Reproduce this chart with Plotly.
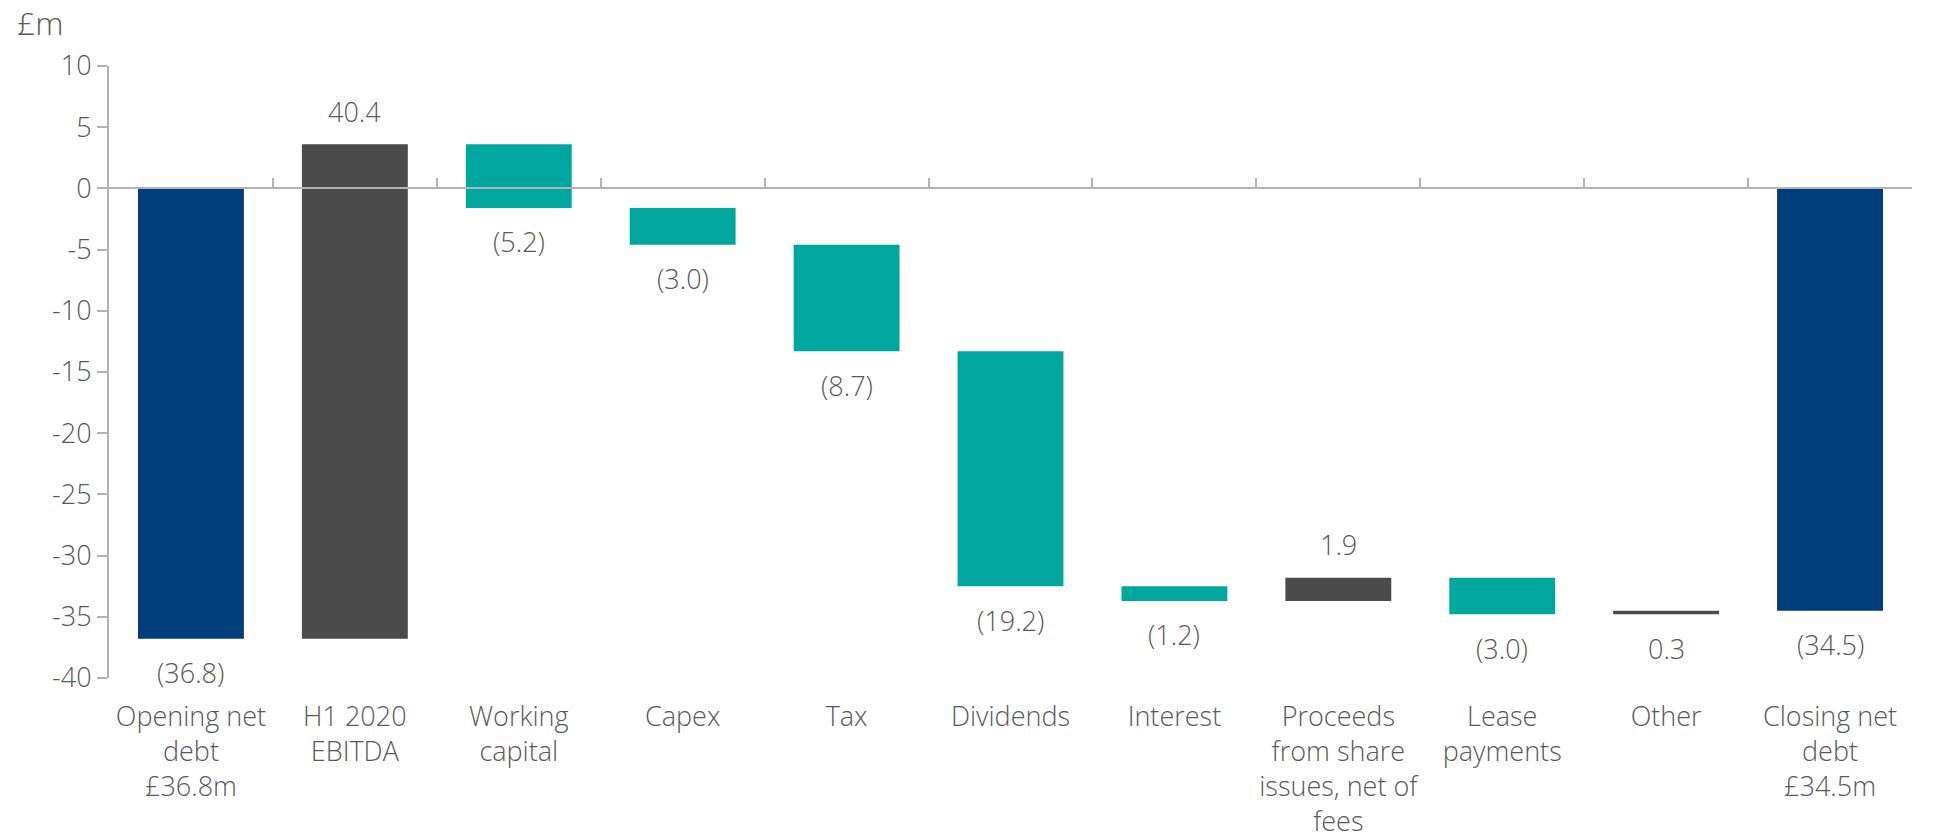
import plotly.graph_objects as go

# Cash flow bridge, £m
categories = [
    "Opening net<br>debt<br>£36.8m",
    "H1 2020<br>EBITDA",
    "Working<br>capital",
    "Capex",
    "Tax",
    "Dividends",
    "Interest",
    "Proceeds<br>from share<br>issues, net of<br>fees",
    "Lease<br>payments",
    "Other",
    "Closing net<br>debt<br>£34.5m",
]
values = [-36.8, 40.4, -5.2, -3.0, -8.7, -19.2, -1.2, 1.9, -3.0, 0.3, -34.5]
measures = ["absolute"] + ["relative"] * 9 + ["total"]
y_ticks = [10, 5, 0, -5, -10, -15, -20, -25, -30, -35, -40]

NAVY = "#003D7C"
GREY = "#4B4B4B"
TEAL = "#00A79E"
TEXT = "#595959"
AXIS = "#B3B3B3"
FONT = dict(family="Open Sans", size=27, color=TEXT, weight=300)


def fmt(v):
    return f"({abs(v):.1f})" if v < 0 else f"{v:.1f}"


fig = go.Figure()
fig.add_trace(go.Waterfall(
    x=categories,
    y=values,
    measure=measures,
    increasing=dict(marker=dict(color=GREY)),
    decreasing=dict(marker=dict(color=TEAL)),
    totals=dict(marker=dict(color=NAVY)),
    connector=dict(visible=False),
    textposition="none",
    hoverinfo="skip",
    showlegend=False,
))

# invisible trace that carries the zero-line axis with boundary ticks
fig.add_trace(go.Scatter(
    x=categories, y=[None] * len(categories), xaxis="x2", yaxis="y",
    mode="markers", showlegend=False, hoverinfo="skip",
))

# value labels: beyond the bar end; the small "Other" item is labelled below
running = 0.0
for i, (cat, v, m) in enumerate(zip(categories, values, measures)):
    if m == "absolute":
        lo, hi = min(0, v), max(0, v)
        running = v
    elif m == "total":
        lo, hi = min(0, running), max(0, running)
    else:
        start, end = running, running + v
        lo, hi = min(start, end), max(start, end)
        running = end
    above = v > 0 and i != 9
    fig.add_annotation(
        x=cat, y=hi if above else lo, text=fmt(v),
        showarrow=False, yanchor="middle",
        yshift=33 if above else -34, font=FONT,
    )

fig.add_annotation(
    xref="paper", yref="paper", x=-0.052, y=1.0, yshift=44,
    xanchor="left", yanchor="middle", text="£m", showarrow=False,
    font=dict(FONT, size=32),
)

fig.update_layout(
    width=1934, height=839,
    margin=dict(l=109, r=22, t=66, b=161, autoexpand=False),
    plot_bgcolor="white", paper_bgcolor="white",
    waterfallgap=0.354,
    font=FONT,
    xaxis=dict(
        type="category", categoryorder="array", categoryarray=categories,
        range=[-0.5, len(categories) - 0.5],
        showline=False, showgrid=False, zeroline=False, ticks="",
        tickfont=FONT, ticklabelstandoff=20, automargin=False,
    ),
    xaxis2=dict(
        type="category", categoryorder="array", categoryarray=categories,
        overlaying="x", matches="x", anchor="free", position=0.8, side="bottom",
        range=[-0.5, len(categories) - 0.5],
        showline=True, linecolor=AXIS, linewidth=2,
        ticks="inside", tickson="boundaries", ticklen=9, tickcolor=AXIS, tickwidth=2,
        showticklabels=False, showgrid=False, zeroline=False, automargin=False,
    ),
    yaxis=dict(
        range=[-40, 10], tickvals=y_ticks, ticktext=[str(t) for t in y_ticks],
        showline=True, linecolor=AXIS, linewidth=2,
        ticks="outside", ticklen=10, tickcolor=AXIS, tickwidth=2,
        showgrid=False, zeroline=False, tickfont=FONT, automargin=False,
    ),
)

fig.write_html("out.html")
